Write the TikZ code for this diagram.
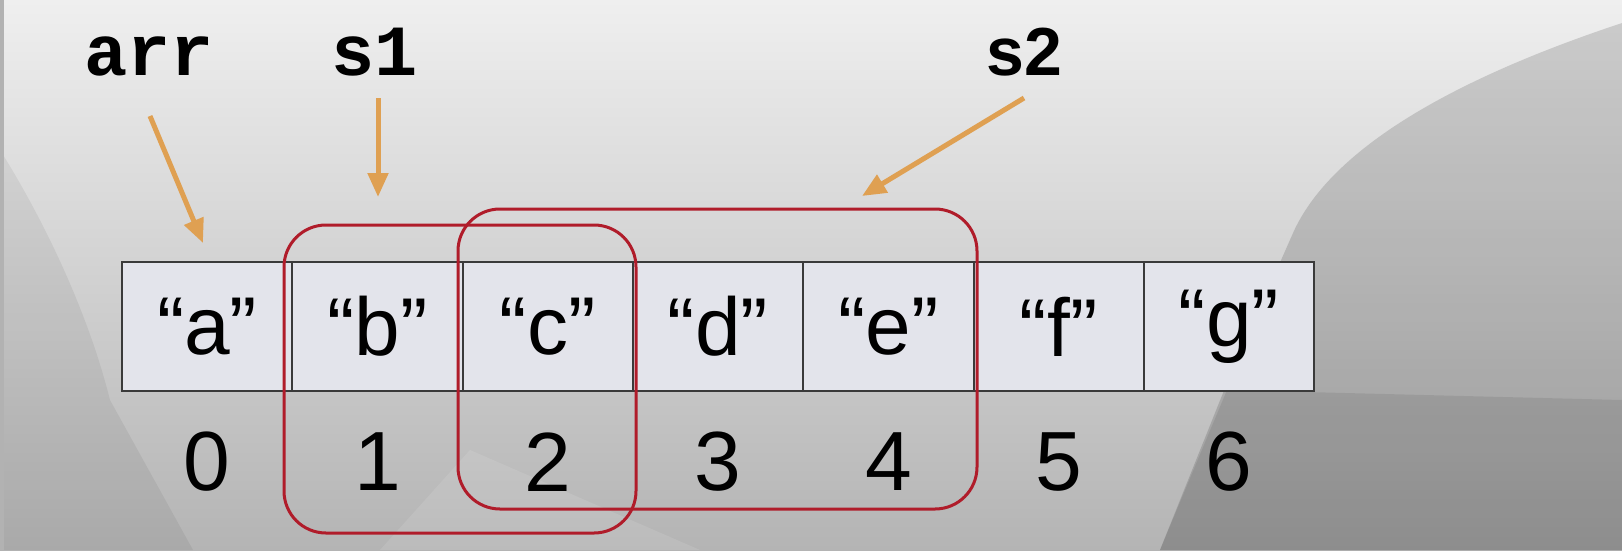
\documentclass[tikz,border=0pt]{standalone}
\usepackage{fontspec}
\setmainfont{Liberation Sans}
\newfontfamily\monob{Liberation Mono}
\usetikzlibrary{arrows.meta}
\definecolor{cellfill}{HTML}{E3E4EB}
\definecolor{cellline}{HTML}{3A3A3A}
\definecolor{selred}{HTML}{B01C2A}
\definecolor{ptrorange}{HTML}{DFA052}
\definecolor{bgtop}{HTML}{EFEFEF}
\definecolor{bgmid}{HTML}{DADADA}
\definecolor{bgbot}{HTML}{B4B4B4}
\tikzset{
  cell/.style={draw=cellline, line width=2pt, fill=cellfill, minimum width=170.3pt, minimum height=129pt, inner sep=0pt, font=\fontsize{82}{82}\selectfont},
  idx/.style={font=\fontsize{84}{84}\selectfont, inner sep=0pt},
  lbl/.style={font=\monob\bfseries\fontsize{72}{72}\selectfont, inner sep=0pt, anchor=base},
  sel/.style={draw=selred, line width=3pt, rounded corners=42pt, inner sep=0pt},
  ptr/.style={draw=ptrorange, line width=5pt, -{Triangle[length=24pt,width=20pt]}}
}
\begin{document}
\begin{tikzpicture}[x=1pt,y=-1pt]
\useasboundingbox (0,0) rectangle (1622,550);
% background
\shade[top color=bgtop, middle color=bgmid, bottom color=bgbot] (0,0) rectangle (1622,550);
\fill[black, opacity=0.14] (1622,23) .. controls (1450,80) and (1330,150) .. (1293,233) -- (1227,383) -- (1160,550) -- (1622,550) -- cycle;
\fill[black, opacity=0.08] (1227,390) -- (1622,400) -- (1622,550) -- (1160,550) -- cycle;
\fill[black, opacity=0.06] (0,150) .. controls (50,230) and (90,320) .. (110,400) -- (193,550) -- (0,550) -- cycle;
\fill[white, opacity=0.10] (380,550) -- (470,450) -- (700,550) -- cycle;
\fill[gray!60] (0,0) rectangle (4,550);
% cells
\foreach \t [count=\i from 0] in {a,b,c,d,e,f,g} {
  \node[cell] (c\i) at ({122+170.3*(\i+0.5)},326.5) {“\t”};
  \node[idx] (n\i) at ({122+170.3*(\i+0.5)},462) {\i};
}
% selection boxes
\node[sel, minimum width=352pt, minimum height=308pt] (s1box) at (460,379) {};
\node[sel, minimum width=519pt, minimum height=300pt] (s2box) at (717.5,359) {};
% labels
\node[lbl] (arr) at (149,75.5) {arr};
\node[lbl] (s1) at (375,75.5) {s1};
\node[font=\bfseries\fontsize{68}{68}\selectfont, inner sep=0pt, anchor=base] (s2) at (1024,75.5) {s2};
% arrow ends
\coordinate (arrA) at (150,116);
\coordinate (arrB) at (203,243);
\coordinate (s1A) at (378,98);
\coordinate (s1B) at (378,197);
\coordinate (s2A) at (1024,98);
\coordinate (s2B) at (862,196);
\draw[ptr] (arrA) -- (arrB);
\draw[ptr] (s1A) -- (s1B);
\draw[ptr] (s2A) -- (s2B);
\end{tikzpicture}
\end{document}
